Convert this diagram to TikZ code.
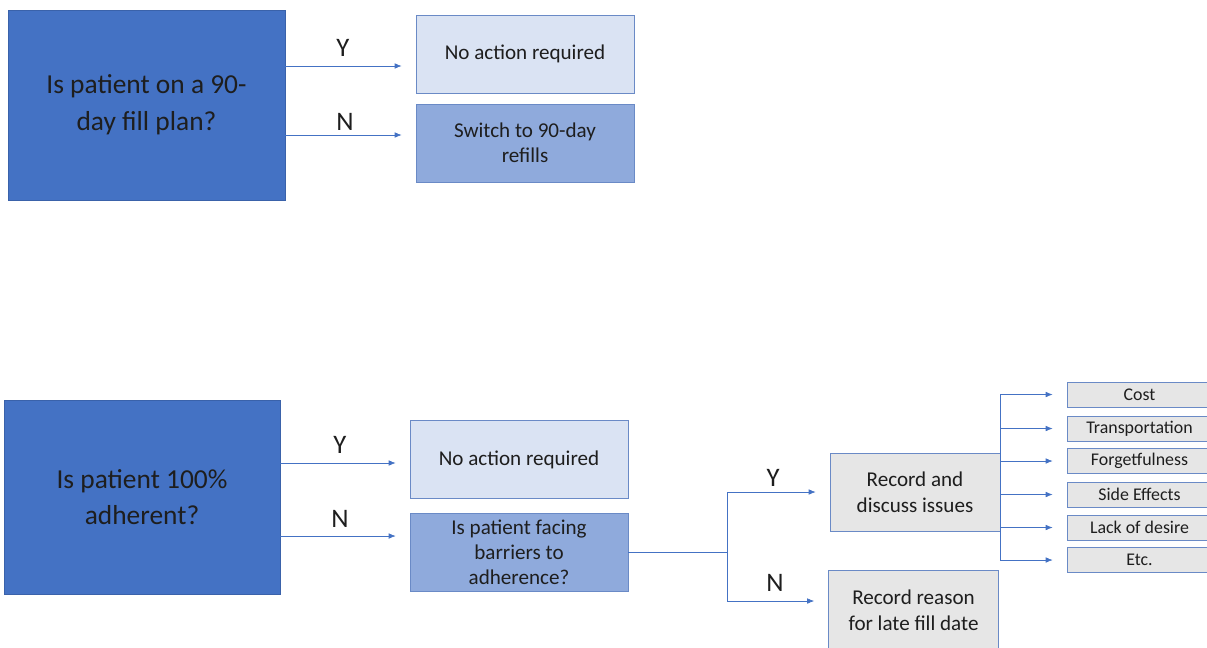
\documentclass[tikz,border=0pt]{standalone}
\usepackage{fontspec}
\setmainfont{Carlito}
\usepackage{tikz}
\usetikzlibrary{arrows.meta,positioning,calc}
\definecolor{qblue}{HTML}{4472C4}
\definecolor{qedge}{HTML}{3A62AA}
\definecolor{lightbox}{HTML}{DAE3F3}
\definecolor{midbox}{HTML}{8FAADC}
\definecolor{greybox}{HTML}{E6E6E6}
\definecolor{boxedge}{HTML}{6A8AC6}
\definecolor{ink}{HTML}{1E1E1E}

\begin{document}
\begin{tikzpicture}[x=0.025cm, y=-0.025cm,
  question/.style={draw=qedge, fill=qblue, thin, text=ink, align=center,
    font=\fontsize{19.5}{26}\selectfont, inner sep=0pt},
  answer/.style={draw=boxedge, fill=lightbox, thin, text=ink, align=center,
    minimum width=5.45cm, minimum height=1.95cm,
    font=\fontsize{15}{17.8}\selectfont, inner sep=0pt},
  followup/.style={answer, fill=midbox},
  record/.style={answer, fill=greybox, minimum width=4.25cm,
    font=\fontsize{15}{18.5}\selectfont},
  issue/.style={draw=boxedge, fill=greybox, thin, text=ink,
    minimum width=3.625cm, minimum height=0.62cm, inner sep=0pt,
    font=\fontsize{12.7}{14}\selectfont},
  yn/.style={text=ink, font=\fontsize{19}{22}\selectfont},
  flow/.style={draw=qblue, line width=0.5pt, -{Latex[length=5pt,width=4pt]},
    shorten >=0.35cm},
  link/.style={draw=qblue, line width=0.5pt}]
  \useasboundingbox (0,0) rectangle (1207,647);
  \clip (0,0) rectangle (1207,647);

  % 90-day fill plan question
  \node[question, minimum width=6.925cm, minimum height=4.75cm] (plan) at (146.5,105)
    {Is patient on a 90-\\day fill plan?};
  \node[answer] (planyes) at (525,54) {No action required};
  \node[followup] (planno) at (525,143) {Switch to 90-day\\refills};
  \path ([yshift=0.975cm]plan.east) coordinate (py)
        ([yshift=-0.75cm]plan.east) coordinate (pn);
  \draw[flow] (py) -- (py -| planyes.west);
  \draw[flow] (pn) -- (pn -| planno.west);
  \node[yn] (plany) at (343,48) {Y};
  \node[yn] (plann) at (345,122) {N};

  % adherence question
  \node[question, minimum width=6.9cm, minimum height=4.85cm] (adh) at (142,497)
    {Is patient 100\%\\adherent?};
  \node[answer] (adhyes) at (519,459.5) {No action required};
  \node[followup] (barrier) at (519,552.5) {Is patient facing\\barriers to\\adherence?};
  \path ([yshift=0.85cm]adh.east) coordinate (ay)
        ([yshift=-0.975cm]adh.east) coordinate (an);
  \draw[flow] (ay) -- (ay -| adhyes.west);
  \draw[flow] (an) -- (an -| barrier.west);
  \node[yn] (adhy) at (340,445) {Y};
  \node[yn] (adhn) at (340,519) {N};

  % barriers branch
  \node[record] (discuss) at (915,492) {Record and\\discuss issues};
  \node[record, minimum height=2cm] (reason) at (913.5,610) {Record reason\\for late fill date};
  \coordinate[xshift=2.475cm] (split) at (barrier.east);
  \coordinate (late) at (split |- 0,601);
  \draw[link] (barrier.east) -- (split);
  \draw[flow] (split) |- (discuss.west);
  \draw[flow] (split) -- (late) -- (late -| reason.west);
  \node[yn] (bary) at (773,478) {Y};
  \node[yn] (barn) at (775,583) {N};

  % list of issues
  \foreach \name/\txt/\y in {cost/Cost/394.5, transport/Transportation/428.5,
      forget/Forgetfulness/461, side/Side Effects/494.5,
      desire/Lack of desire/527.5, etc/Etc./560}{
    \node[issue] (\name) at (1139.5,\y) {\txt};
    \draw[flow] (discuss.east |- \name.west) -- (\name.west);
  }
  \draw[link] (discuss.east |- cost.west) -- (discuss.east |- etc.west);
\end{tikzpicture}
\end{document}
